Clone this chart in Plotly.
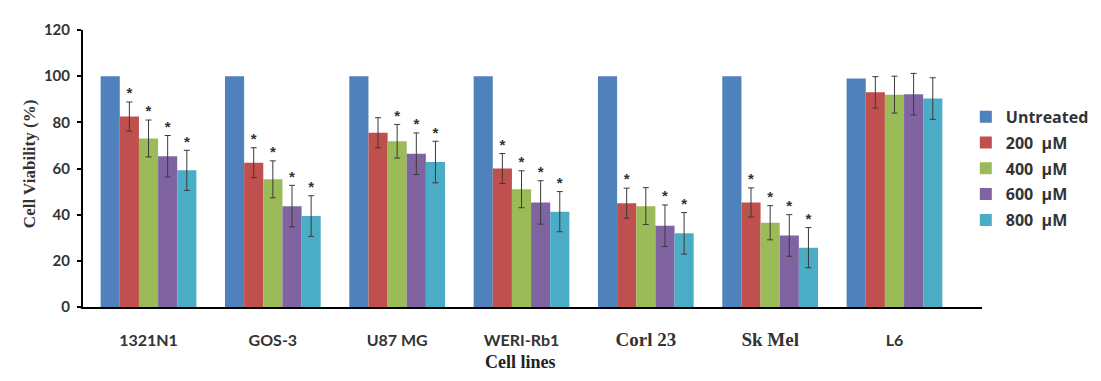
import plotly.graph_objects as go

categories = ["1321N1", "GOS-3", "U87 MG", "WERI-Rb1", "Corl 23", "Sk Mel", "L6"]
tick_labels = [
    "1321N1", "GOS-3", "U87 MG", "WERI-Rb1",
    "<span style=\"font-family:'Liberation Serif';font-size:19px\">Corl 23</span>",
    "<span style=\"font-family:'Liberation Serif';font-size:19px\">Sk Mel</span>",
    "L6",
]
series_names = ["Untreated", "200\u00a0\u00a0\u00b5M", "400\u00a0\u00a0\u00b5M", "600\u00a0\u00a0\u00b5M", "800\u00a0\u00a0\u00b5M"]
colors = ["#4F81BD", "#C0504D", "#9BBB59", "#8064A2", "#4BACC6"]

untreated = [100, 100, 100, 100, 100, 100, 99]
um200 = [82.5, 62.5, 75.5, 60, 45, 45.3, 93]
um400 = [73, 55.3, 71.8, 51, 43.7, 36.5, 92]
um600 = [65.3, 43.7, 66.4, 45.3, 35.2, 31, 92.2]
um800 = [59.2, 39.4, 62.8, 41.3, 31.9, 25.7, 90.3]

err200 = [6.3, 6.5, 6.5, 6.5, 6.5, 6.3, 6.8]
err400 = [8, 8, 7.3, 8, 8, 7.4, 8]
err600 = [9, 9, 9, 9.4, 9, 9, 9]
err800 = [8.7, 8.8, 9, 8.7, 9, 8.7, 9]

star200 = [1, 1, 0, 1, 1, 1, 0]
star400 = [1, 1, 1, 1, 0, 1, 0]
star600 = [1, 1, 1, 1, 1, 1, 0]
star800 = [1, 1, 1, 1, 1, 1, 0]

values = [untreated, um200, um400, um600, um800]
errors = [None, err200, err400, err600, err800]
stars = [None, star200, star400, star600, star800]

fig = go.Figure()
for k in range(5):
    fig.add_trace(go.Bar(
        x=categories, y=values[k], name=series_names[k],
        marker=dict(color=colors[k], line=dict(width=0)),
        offsetgroup=str(k), legendgroup=str(k),
        error_y=None if errors[k] is None else dict(
            type="data", array=errors[k], visible=True,
            color="#3a3a3a", thickness=1, width=3),
    ))

for k in range(1, 5):
    ys = [v + e for v, e in zip(values[k], errors[k])]
    txt = ["*" if s else "" for s in stars[k]]
    fig.add_trace(go.Scatter(
        x=categories, y=ys, mode="text", text=txt,
        textposition="top center", offsetgroup=str(k),
        textfont=dict(family="Liberation Sans", size=15, color="#333333", weight="bold"),
        showlegend=False, hoverinfo="skip", cliponaxis=False,
    ))

fig.update_layout(
    width=1093, height=373,
    margin=dict(l=75, r=119, t=22, b=74, autoexpand=False),
    paper_bgcolor="white", plot_bgcolor="white",
    barmode="group", bargap=0.23, bargroupgap=0,
    scattermode="group", scattergap=0.23,
    legend=dict(
        x=0.982, xanchor="left", y=0.748, yanchor="top",
        font=dict(family="Open Sans", size=16, color="#333333", weight="bold"),
        traceorder="grouped", tracegroupgap=2, itemwidth=30,
        bgcolor="rgba(0,0,0,0)",
    ),
    xaxis=dict(
        type="category", range=[-0.527, 6.704],
        tickmode="array", tickvals=categories, ticktext=tick_labels,
        showline=True, linecolor="black", linewidth=2,
        ticks="", ticklabelstandoff=18, showgrid=False,
        tickfont=dict(family="Lato", size=16, color="#333333", weight="bold"),
    ),
    yaxis=dict(
        range=[0, 120], tickvals=[0, 20, 40, 60, 80, 100, 120],
        showline=True, linecolor="black", linewidth=2,
        ticks="outside", ticklen=4, tickcolor="black", tickwidth=2,
        ticklabelstandoff=4, showgrid=False, zeroline=False,
        tickfont=dict(family="Lato", size=15, color="#333333", weight="bold"),
    ),
    annotations=[
        dict(text="Cell lines", xref="paper", yref="paper", x=0.487, y=-0.2,
             xanchor="center", yanchor="middle", showarrow=False,
             font=dict(family="Liberation Serif", size=18, color="#222222", weight="bold")),
        dict(text="Cell Viability (%)", xref="paper", yref="paper", x=-0.06, y=0.516,
             xanchor="center", yanchor="middle", showarrow=False, textangle=-90,
             font=dict(family="Liberation Serif", size=17, color="#333333", weight="bold")),
    ],
)

fig.write_html("out.html")
